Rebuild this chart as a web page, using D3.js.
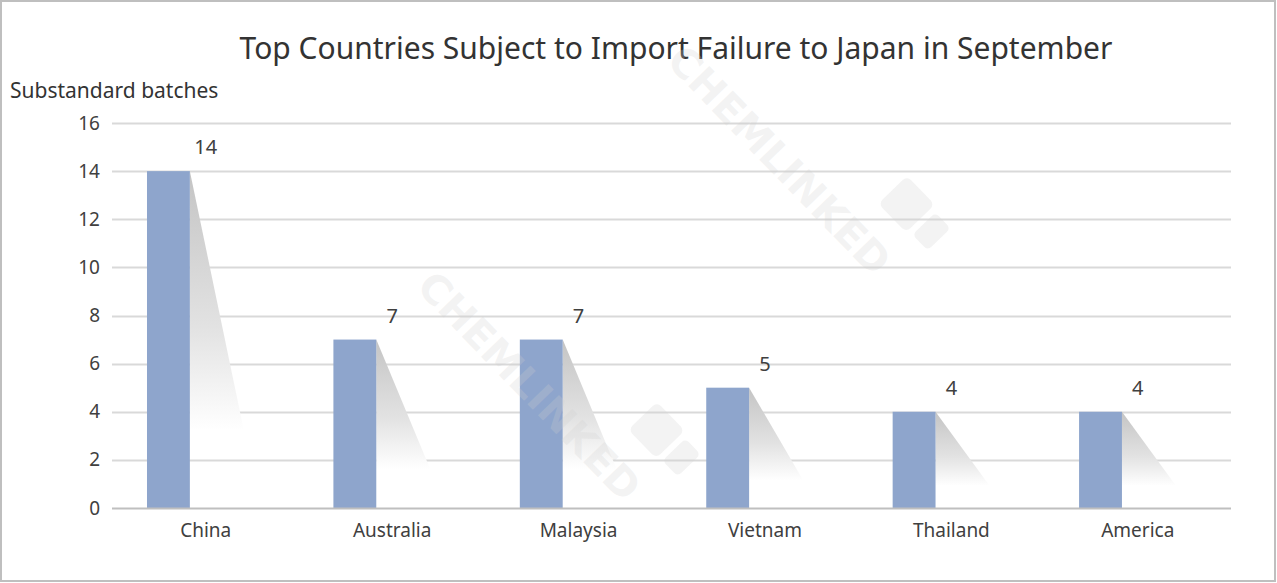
<!DOCTYPE html>
<html><head><meta charset="utf-8">
<script src="https://cdn.jsdelivr.net/npm/d3@7"></script>
<style>body{margin:0;background:#fff}svg{display:block}</style>
</head><body>
<script>
const categories = ["China","Australia","Malaysia","Vietnam","Thailand","America"];
const values = [14,7,7,5,4,4];
const yTicks = [0,2,4,6,8,10,12,14,16];
const titleText = "Top Countries Subject to Import Failure to Japan in September";
const yTitle = "Substandard batches";
const watermarkText = "CHEMLINKED";

const W = 1277, H = 583;
const font = "'Noto Sans', 'Open Sans', sans-serif";
const svg = d3.select("body").append("svg").attr("width", W).attr("height", H);

svg.append("rect").attr("x",0).attr("y",0).attr("width",W).attr("height",H).attr("fill","#fff");

const defs = svg.append("defs");
const grad = defs.append("linearGradient").attr("id","shade").attr("x1",0).attr("y1",0).attr("x2",0).attr("y2",1);
grad.append("stop").attr("offset","0%").attr("stop-color","#c4c4c4");
grad.append("stop").attr("offset","60%").attr("stop-color","#e2e2e2");
grad.append("stop").attr("offset","100%").attr("stop-color","#ffffff");

const x = d3.scaleBand().domain(categories).range([112.5, 1231]);
const y = d3.scaleLinear().domain([0,16]).range([508, 123]);
const bw = x.bandwidth();

// gridlines
svg.append("g").selectAll("line").data(yTicks.filter(t=>t>0)).join("line")
  .attr("x1",112).attr("x2",1231).attr("y1",d=>Math.round(y(d))+0.5).attr("y2",d=>Math.round(y(d))+0.5)
  .attr("stroke","#d9d9d9").attr("stroke-width",2);

// y axis tick labels
const yAxis = d3.axisLeft(y).tickValues(yTicks).tickSize(0).tickPadding(12);
const yg = svg.append("g").attr("transform","translate(112,0)").call(yAxis);
yg.select(".domain").remove();
yg.selectAll("text").attr("font-family",font).attr("font-size",19).attr("fill","#404040");

// shadows
svg.append("g").selectAll("polygon").data(categories).join("polygon")
  .attr("points",(c,i)=>{
    const xr = x(c) + bw*0.415;
    const top = y(values[i]);
    const h = y(0) - top;
    const yb = top + h*0.77;
    return `${xr},${top} ${xr+54},${yb} ${xr},${yb}`;
  })
  .attr("fill","url(#shade)");

// bars
svg.append("g").selectAll("rect").data(categories).join("rect")
  .attr("x",c=>x(c)+bw*0.185).attr("width",bw*0.23)
  .attr("y",(c,i)=>y(values[i])).attr("height",(c,i)=>y(0)-y(values[i]))
  .attr("fill","#8ea5cc");

// x axis
svg.append("line").attr("x1",112).attr("x2",1231).attr("y1",508.5).attr("y2",508.5).attr("stroke","#bfbfbf").attr("stroke-width",2);
const xAxis = d3.axisBottom(x).tickSize(0).tickPadding(16);
const xg = svg.append("g").attr("transform","translate(0,508)").call(xAxis);
xg.select(".domain").remove();
xg.selectAll("text").attr("font-family",font).attr("font-size",19).attr("fill","#404040");

// value labels
svg.append("g").selectAll("text").data(categories).join("text")
  .attr("x",c=>x(c)+bw/2).attr("y",(c,i)=>y(values[i])-17)
  .attr("text-anchor","middle").attr("font-family",font).attr("font-size",20).attr("fill","#404040")
  .text((c,i)=>values[i]);

// titles
svg.append("text").attr("x",676).attr("y",59).attr("text-anchor","middle")
  .attr("font-family",font).attr("font-size",30).attr("fill","#333").text(titleText);
svg.append("text").attr("x",10).attr("y",98).attr("font-family",font).attr("font-size",21).attr("fill","#333").text(yTitle);

// watermark overlay (only the instances that sit fully inside the picture)
const wmStarts = [[665,62],[415,288]];
const wm = svg.append("g").attr("fill","#cfcfcf").attr("fill-opacity",0.26);
wmStarts.forEach(([sx,sy]) => {
  const g = wm.append("g").attr("transform",`translate(${sx},${sy}) rotate(46)`);
  g.append("text").attr("x",0).attr("y",0).attr("font-family","'DejaVu Sans', sans-serif").attr("font-weight","bold")
    .attr("font-size",40).attr("textLength",300).attr("lengthAdjust","spacingAndGlyphs").text(watermarkText);
  g.append("rect").attr("x",250).attr("y",-95).attr("width",40).attr("height",40).attr("rx",6);
  g.append("rect").attr("x",296).attr("y",-90).attr("width",22).attr("height",32).attr("rx",5);
});

// border
svg.append("rect").attr("x",1).attr("y",1).attr("width",W-3).attr("height",H-3).attr("fill","none").attr("stroke","#bfbfbf").attr("stroke-width",2);
</script>
</body></html>
